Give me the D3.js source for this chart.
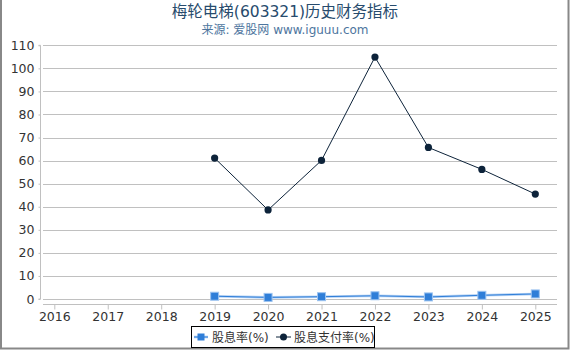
<!DOCTYPE html>
<html><head><meta charset="utf-8">
<script src="https://cdnjs.cloudflare.com/ajax/libs/d3/7.8.5/d3.min.js"></script>
<style>
html,body{margin:0;padding:0;background:#fff;}
svg{display:block;font-family:"DejaVu Sans","Noto Sans CJK SC",sans-serif;}
</style></head>
<body><svg id="c" width="570" height="350"></svg>
<script>
const years = ["2016","2017","2018","2019","2020","2021","2022","2023","2024","2025"];
const yieldVals = [null,null,null,1.2,0.7,1.0,1.4,0.9,1.6,2.2];
const payoutVals = [null,null,null,61.1,38.6,60.1,104.9,65.7,56.2,45.5];
const yTicks = [0,10,20,30,40,50,60,70,80,90,100,110];
const seriesNames = ["股息率(%)","股息支付率(%)"];
const titleText = "梅轮电梯(603321)历史财务指标";
const subtitleText = "来源: 爱股网 www.iguuu.com";

(function(){
const svg = d3.select("#c");
const W=570,H=350;
const pL=43,pR=557,pT=45.3,pB=303.7;

// frame
svg.append("rect").attr("x",1).attr("y",-2).attr("width",W-2.5).attr("height",H+0.5)
  .attr("fill","none").attr("stroke","#888").attr("stroke-width",2);

const x = d3.scalePoint().domain(years).range([54.3,535.3]);
const y = d3.scaleLinear().domain([0,110]).range([299,pT]);

// gridlines
svg.append("g").selectAll("line").data(yTicks).join("line")
  .attr("x1",pL).attr("x2",pR)
  .attr("y1",d=>Math.round(y(d))+0.5).attr("y2",d=>Math.round(y(d))+0.5)
  .attr("stroke","#c0c0c0").attr("stroke-width",1);

// y axis
const ya = svg.append("g").attr("transform","translate(40.5,0)")
  .call(d3.axisLeft(y).tickValues(yTicks).tickSize(2).tickPadding(4));
ya.select(".domain").attr("stroke","#c0c0c0").attr("d",`M-2,${y(110)}H0V${y(0)}H-2`);
ya.selectAll(".tick line").attr("stroke","#c0c0c0");
ya.selectAll("text").attr("fill","#333").style("font-size","12.5px").style("font-family","DejaVu Sans");

// x axis
const xa = svg.append("g").attr("transform",`translate(0,${Math.round(pB)+0.5})`)
  .call(d3.axisBottom(x).tickSize(5).tickPadding(3));
xa.select(".domain").attr("stroke","#c0c0c0").attr("d",`M${pL},0H${pR}`);
xa.selectAll(".tick line").attr("stroke","#c0c0c0");
xa.selectAll("text").attr("fill","#333").style("font-size","12.5px").style("font-family","DejaVu Sans");

// titles
svg.append("text").attr("x",285).attr("y",17).attr("text-anchor","middle")
  .attr("fill","#274b6d").style("font-size","15.5px").text(titleText);
svg.append("text").attr("x",285).attr("y",34).attr("text-anchor","middle")
  .attr("fill","#4d759e").style("font-size","12px").text(subtitleText);

// yield series
const yd = years.map((d,i)=>({k:d,v:yieldVals[i]})).filter(d=>d.v!=null);
const line = d3.line().x(d=>x(d.k)).y(d=>y(d.v));
svg.append("path").datum(yd).attr("d",line).attr("fill","none")
  .attr("stroke","#b3d1f4").attr("stroke-width",2.6);
svg.append("path").datum(yd).attr("d",line).attr("fill","none")
  .attr("stroke","#2f7ed8").attr("stroke-width",1);
svg.append("g").selectAll("rect").data(yd).join("rect")
  .attr("x",d=>x(d.k)-4).attr("y",d=>y(d.v)-4).attr("width",8).attr("height",8)
  .attr("fill","#2f7ed8").attr("stroke","#9cc3f0").attr("stroke-width",1);

// payout series
const pd = years.map((d,i)=>({k:d,v:payoutVals[i]})).filter(d=>d.v!=null);
svg.append("path").datum(pd).attr("d",line).attr("fill","none")
  .attr("stroke","#0d233a").attr("stroke-width",1);
svg.append("g").selectAll("circle").data(pd).join("circle")
  .attr("cx",d=>x(d.k)).attr("cy",d=>y(d.v)).attr("r",3.6)
  .attr("fill","#0d233a");

// legend
const lg = svg.append("g");
lg.append("rect").attr("x",191.5).attr("y",326.5).attr("width",183).attr("height",21)
  .attr("fill","#fff").attr("stroke","#000").attr("stroke-width",1);
lg.append("line").attr("x1",194).attr("x2",208).attr("y1",337).attr("y2",337)
  .attr("stroke","#b3d1f4").attr("stroke-width",2.6);
lg.append("line").attr("x1",194).attr("x2",208).attr("y1",337).attr("y2",337)
  .attr("stroke","#2f7ed8").attr("stroke-width",1);
lg.append("rect").attr("x",197.5).attr("y",333.5).attr("width",7).attr("height",7).attr("fill","#2f7ed8");
lg.append("text").attr("x",212).attr("y",342).attr("fill","#333").style("font-size","12px").text(seriesNames[0]);
lg.append("line").attr("x1",276).attr("x2",291).attr("y1",337).attr("y2",337)
  .attr("stroke","#0d233a").attr("stroke-width",1);
lg.append("circle").attr("cx",283.5).attr("cy",337).attr("r",3.5).attr("fill","#0d233a");
lg.append("text").attr("x",294).attr("y",342).attr("fill","#333").style("font-size","12px").text(seriesNames[1]);
})();
</script></body></html>
